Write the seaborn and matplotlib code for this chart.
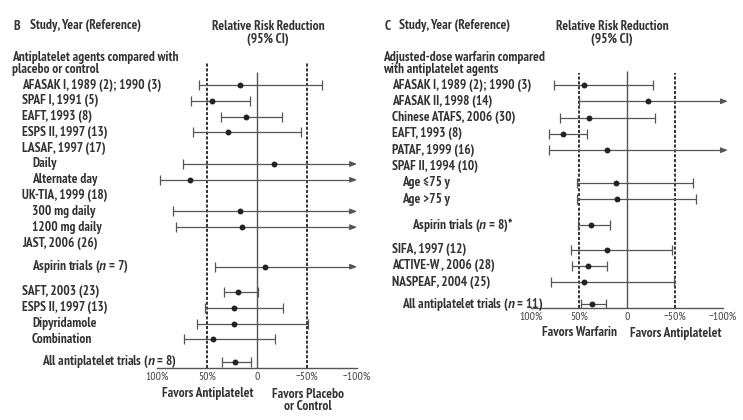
import numpy as np
import pandas as pd
import matplotlib
matplotlib.use("Agg")
import matplotlib.pyplot as plt
import matplotlib.transforms as mtrans
import seaborn as sns

sns.set_style("white")
FONT = 'PT Sans Narrow'
plt.rcParams['font.family'] = [FONT, 'Open Sans', 'DejaVu Sans']
plt.rcParams['mathtext.fontset'] = 'custom'
plt.rcParams['mathtext.it'] = 'PT Sans:style=italic:weight=bold'
plt.rcParams['mathtext.rm'] = FONT + ':weight=bold'

# ---------------- data: panel B ----------------
b_labels = ["AFASAK I, 1989 (2); 1990 (3)", "SPAF I, 1991 (5)", "EAFT, 1993 (8)",
            "ESPS II, 1997 (13)", "LASAF, 1997 (17)", "Daily", "Alternate day",
            "UK-TIA, 1999 (18)", "300 mg daily", "1200 mg daily", "JAST, 2006 (26)",
            "Aspirin trials (n = 7)", "SAFT, 2003 (23)", "ESPS II, 1997 (13)",
            "Dipyridamole", "Combination", "All antiplatelet trials (n = 8)"]
b_rrr = [17, 45, 11, 29, np.nan, -17, 67, np.nan, 17, 15, np.nan, -8, 19, 23, 23, 44, 22]
b_ci_high = [58, 66, 36, 64, np.nan, 74, 97, np.nan, 84, 81, np.nan, 42, 33, 52, 60, 73, 35]
b_ci_low = [-65, 7, -25, -44, np.nan, -120, -120, np.nan, -120, -120, np.nan, -120, -1, -26, -51, -18, 6]
b_indent = [1, 1, 1, 1, 1, 2, 2, 1, 2, 2, 1, 2, 1, 1, 2, 2, 3]
b_row = [0, 1, 2, 3, 4, 5, 6, 7, 8, 9, 10, 11.5, 13.1, 14.1, 15.1, 16.1, 17.5]

# ---------------- data: panel C ----------------
c_labels = ["AFASAK I, 1989 (2); 1990 (3)", "AFASAK II, 1998 (14)", "Chinese ATAFS, 2006 (30)",
            "EAFT, 1993 (8)", "PATAF, 1999 (16)", "SPAF II, 1994 (10)", "Age \u226475 y",
            "Age >75 y", "Aspirin trials (n = 8)*", "SIFA, 1997 (12)", "ACTIVE-W , 2006 (28)",
            "NASPEAF, 2004 (25)", "All antiplatelet trials (n = 11)"]
c_rrr = [45, -22, 40, 67, 21, np.nan, 11, 10, 38, 21, 41, 45, 36]
c_ci_high = [76, 50, 70, 81, 81, np.nan, 52, 52, 51, 58, 57, 79, 48]
c_ci_low = [-27, -120, -29, 42, -120, np.nan, -69, -72, 18, -47, 21, -49, 22]
c_indent = [1, 1, 1, 1, 1, 1, 2, 2, 3, 1, 1, 1, 2]
c_row = [0, 1, 2, 3, 4, 5, 6, 7, 8.6, 10.1, 11.1, 12.1, 13.45]

ticks_major = [100, 50, 0, -50, -100]
tick_labels = ["100%", "50%", "0", "\u221250%", "\u2212100%"]

W, H = 743, 420
fig = plt.figure(figsize=(W / 100, H / 100), dpi=100)
fig.patch.set_facecolor("white")

TXT = "#333333"
LN = "#555555"
FS = 9.6
WT = "bold"


def fx(px):
    return px / W


def fy(py):
    return 1 - py / H


def panel(x0, x1, ytop_px, ybot_px, row0_px, step_px, labels, rrr, hi, lo, indent, rows,
          indent_px, arrow_end, dash_top, solid_top):
    ax = fig.add_axes([fx(x0), fy(ybot_px), (x1 - x0) / W, (ybot_px - ytop_px) / H])
    ax.set_xlim(100, -100)
    rtop = (ytop_px - row0_px) / step_px
    rbot = (ybot_px - row0_px) / step_px
    ax.set_ylim(rbot, rtop)
    ax.patch.set_alpha(0)
    for s in ["top", "left", "right"]:
        ax.spines[s].set_visible(False)
    ax.spines["bottom"].set_color(LN)
    ax.spines["bottom"].set_linewidth(1.0)
    ax.set_yticks([])
    ax.set_xticks(ticks_major)
    ax.set_xticklabels(tick_labels)
    ax.set_xticks(np.arange(-100, 101, 10), minor=True)
    ax.tick_params(axis="x", which="both", direction="in", length=5, width=0.9,
                   color=LN, labelsize=8.4, labelcolor="#444444", pad=3)
    # reference lines
    ax.vlines(0, rbot, (solid_top - row0_px) / step_px, color=LN, lw=1.0, zorder=1)
    for v in (50, -50):
        ax.vlines(v, rbot, (dash_top - row0_px) / step_px, color="#333333", lw=1.4,
                  linestyles=(0, (1.6, 0.9)), zorder=1)

    df = pd.DataFrame({"label": labels, "rrr": rrr, "hi": hi, "lo": lo,
                       "indent": indent, "row": rows})
    d = df.dropna(subset=["rrr"])
    for _, r in d.iterrows():
        beyond = r["lo"] < -100
        right = arrow_end if beyond else r["lo"]
        ax.plot([r["hi"], right], [r["row"], r["row"]], color=LN, lw=0.9, zorder=2)
        ax.plot([r["hi"]], [r["row"]], marker="|", ms=7, mew=0.9, color=LN, zorder=2)
        if beyond:
            ax.annotate("", xy=(right - 3, r["row"]), xytext=(right + 2, r["row"]),
                        arrowprops=dict(arrowstyle="-|>,head_length=0.4,head_width=0.16",
                                        color=LN, lw=0.9, shrinkA=0, shrinkB=0),
                        annotation_clip=False)
        else:
            ax.plot([r["lo"]], [r["row"]], marker="|", ms=7, mew=0.9, color=LN, zorder=2)
    sns.scatterplot(data=d, x="rrr", y="row", ax=ax, color="#222222", s=18,
                    edgecolor="#222222", linewidth=0, zorder=3, legend=False)
    ax.set_xlabel("")
    ax.set_ylabel("")

    tr = mtrans.blended_transform_factory(fig.transFigure, ax.transData)
    for _, r in df.iterrows():
        lab = r["label"]
        if "(n = " in lab:
            pre, post = lab.split("(n = ")
            lab = pre + "($\\it{n}$ = " + post
        ax.text(fx(indent_px[int(r["indent"])]), r["row"], lab, transform=tr,
                ha="left", va="center", fontsize=FS, color=TXT, fontweight=WT)
    return ax


# Panel B
axb = panel(157, 357, 60, 368, 85, 15.8, b_labels, b_rrr, b_ci_high, b_ci_low, b_indent, b_row,
            {1: 22, 2: 32, 3: 42}, -97, 63, 72)
# Panel C
axc = panel(531, 723, 62, 308, 85, 16.3, c_labels, c_rrr, c_ci_high, c_ci_low, c_indent, c_row,
            {1: 392, 2: 402, 3: 412}, -102, 73, 71)

kw = dict(color=TXT, fontsize=FS, fontweight=WT, va="center")
# Panel B headers
fig.text(fx(13), fy(26), "B", ha="left", **kw)
fig.text(fx(30), fy(26), "Study, Year (Reference)", ha="left", **kw)
fig.text(fx(268), fy(26), "Relative Risk Reduction", ha="center", **kw)
fig.text(fx(268), fy(39), "(95% CI)", ha="center", **kw)
fig.text(fx(12), fy(57), "Antiplatelet agents compared with", ha="left", **kw)
fig.text(fx(12), fy(70), "placebo or control", ha="left", **kw)
fig.text(fx(208), fy(394), "Favors Antiplatelet", ha="center", **kw)
fig.text(fx(308), fy(394), "Favors Placebo", ha="center", **kw)
fig.text(fx(308), fy(407), "or Control", ha="center", **kw)

# Panel C headers
fig.text(fx(385), fy(26), "C", ha="left", **kw)
fig.text(fx(399), fy(26), "Study, Year (Reference)", ha="left", **kw)
fig.text(fx(612), fy(26), "Relative Risk Reduction", ha="center", **kw)
fig.text(fx(612), fy(39), "(95% CI)", ha="center", **kw)
fig.text(fx(383), fy(57), "Adjusted-dose warfarin compared", ha="left", **kw)
fig.text(fx(383), fy(70), "with antiplatelet agents", ha="left", **kw)
fig.text(fx(579), fy(333), "Favors Warfarin", ha="center", **kw)
fig.text(fx(676), fy(333), "Favors Antiplatelet", ha="center", **kw)

fig.savefig("out.png", dpi=100, facecolor="white")
